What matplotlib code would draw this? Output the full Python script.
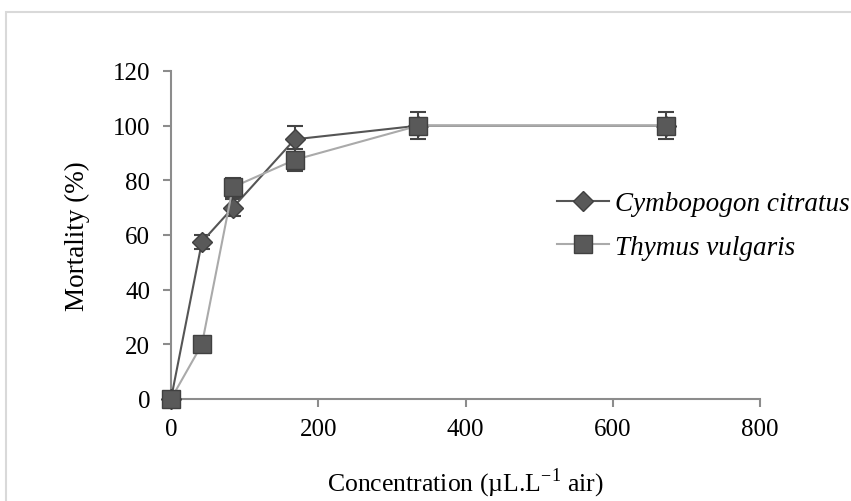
import matplotlib.pyplot as plt
from matplotlib.patches import Rectangle

plt.rcParams['font.family'] = ['Liberation Serif', 'DejaVu Serif']
plt.rcParams['mathtext.fontset'] = 'custom'
plt.rcParams['mathtext.rm'] = 'Liberation Serif'

conc = [0, 42, 84, 168, 336, 672]
cymbo = [0, 57.5, 70, 95, 100, 100]
cymbo_err = [0, 2.5, 3, 5, 0, 0]
thymus = [0, 20, 77.5, 87.5, 100, 100]
thymus_err = [0, 0, 3.5, 4, 5, 5]

fig = plt.figure(figsize=(8.51, 5.02), dpi=100)
ax = fig.add_axes([171 / 851, (502 - 400) / 502, (760 - 171) / 851, (400 - 72) / 502])

# outer light frame
fig.patches.append(Rectangle((6 / 851, -0.1), 1.0, (502 - 13) / 502 + 0.1,
                             transform=fig.transFigure, fill=False,
                             edgecolor='#d9d9d9', linewidth=1.5))

styles = [
    dict(data=cymbo, err=cymbo_err, label='Cymbopogon citratus', color='#555555',
         marker='D', ms=10, z=3),
    dict(data=thymus, err=thymus_err, label='Thymus vulgaris', color='#aaaaaa',
         marker='s', ms=13, z=4),
]
for st in styles:
    ax.errorbar(conc, st['data'], yerr=st['err'], fmt='none', ecolor='#444444',
                elinewidth=1.5, capsize=6, capthick=1.5, zorder=st['z'])
    ax.plot(conc, st['data'], color=st['color'], linewidth=1.5,
            marker=st['marker'], markersize=st['ms'], markerfacecolor='#595959',
            markeredgecolor='#404040', label=st['label'], zorder=st['z'])

ax.set_xlim(0, 800)
ax.set_ylim(0, 120)
ax.set_xticks([0, 200, 400, 600, 800])
ax.set_yticks([0, 20, 40, 60, 80, 100, 120])
for s in ['top', 'right']:
    ax.spines[s].set_visible(False)
for s in ['left', 'bottom']:
    ax.spines[s].set_color('#8c8c8c')
    ax.spines[s].set_linewidth(1.5)
ax.tick_params(axis='both', colors='#8c8c8c', labelcolor='black',
               labelsize=18, length=6, width=1.5, direction='out')
ax.tick_params(axis='x', pad=8)
ax.tick_params(axis='y', pad=9)
for art in ax.lines + ax.collections:
    art.set_clip_on(False)

ax.set_xlabel(r'Concentration (µL.L$^{-1}$ air)', fontsize=18.5, labelpad=18)
ax.set_ylabel('Mortality (%)', fontsize=19.5, labelpad=16)

ax.legend(loc='center left', bbox_to_anchor=(0.655, 0.529), frameon=False,
          prop={'style': 'italic', 'size': 19.5}, handlelength=1.93,
          handletextpad=0.22, labelspacing=0.7, borderpad=0, borderaxespad=0)

fig.savefig('out.png', dpi=100)
